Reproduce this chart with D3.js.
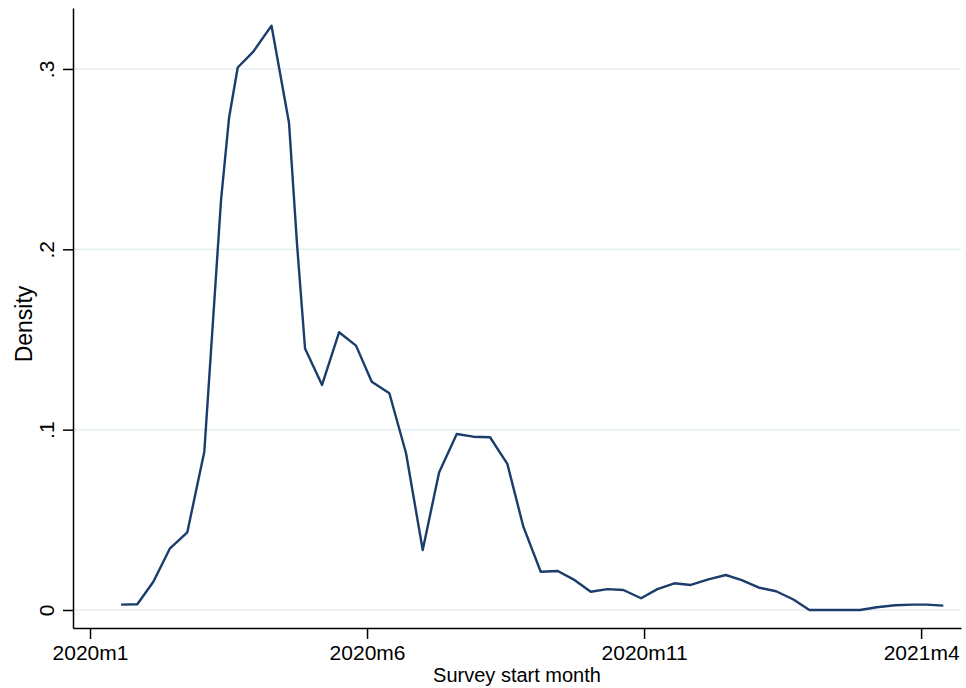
<!DOCTYPE html>
<html>
<head>
<meta charset="utf-8">
<script src="https://cdn.jsdelivr.net/npm/d3@7.9.0/dist/d3.min.js"></script>
<style>
  body { margin: 0; background: #fff; }
  svg { display: block; font-family: Arial, "Liberation Sans", sans-serif; }
</style>
</head>
<body>
<svg id="chart" width="966" height="688"></svg>
<script>
// month index: 0 = 2020m1
const months = [0.56, 0.854, 1.143, 1.444, 1.756, 2.063, 2.365, 2.509, 2.666, 2.948, 3.276, 3.592, 3.736,
    3.881, 4.188, 4.495, 4.801, 5.085, 5.403, 5.704, 6.005, 6.3, 6.619, 6.919, 7.22, 7.532, 7.821,
    8.135, 8.442, 8.724, 9.038, 9.338, 9.626, 9.946, 10.24, 10.547, 10.843, 11.161, 11.475, 11.763,
    12.063, 12.383, 12.695, 12.984, 13.29, 13.6, 13.899, 14.2, 14.53, 14.84, 15.1, 15.4];
const density = [0.003, 0.0032, 0.0157, 0.0342, 0.0431, 0.0878, 0.2274, 0.2728, 0.3008, 0.3096, 0.324, 0.27, 0.203,
    0.145, 0.1248, 0.154, 0.1466, 0.1266, 0.1202, 0.0869, 0.0333, 0.0763, 0.0976, 0.0961, 0.0958, 0.081, 0.0462,
    0.0212, 0.0216, 0.017, 0.0101, 0.0116, 0.0111, 0.0065, 0.0116, 0.0148, 0.0139, 0.017, 0.0194, 0.0166,
    0.0125, 0.0104, 0.0058, 0, 0, 0, 0, 0.0015, 0.0026, 0.003, 0.003, 0.0024];

const xTicks = [0, 5, 10, 15];
const xTickLabels = ['2020m1', '2020m6', '2020m11', '2021m4'];
const yTicks = [0, 0.1, 0.2, 0.3];
const yTickLabels = ['0', '.1', '.2', '.3'];

const svg = d3.select('#chart');
const plotLeft = 73, plotRight = 961, plotTop = 8, plotBottom = 628;

const x = d3.scaleLinear().domain([-0.307, 15.72]).range([plotLeft, plotRight]);
const y = d3.scaleLinear().domain([-0.00998, 0.3338]).range([plotBottom, plotTop]);

// gridlines
svg.append('g')
    .selectAll('line')
    .data(yTicks)
    .join('line')
    .attr('x1', plotLeft)
    .attr('x2', plotRight)
    .attr('y1', d => y(d))
    .attr('y2', d => y(d))
    .attr('stroke', '#e4edf0')
    .attr('stroke-width', 1.5);

// density line
const pts = months.map((m, i) => [m, density[i]]);
svg.append('path')
    .datum(pts)
    .attr('fill', 'none')
    .attr('stroke', '#1a3d6b')
    .attr('stroke-width', 2.4)
    .attr('stroke-linejoin', 'round')
    .attr('d', d3.line().x(d => x(d[0])).y(d => y(d[1])));

// x axis
const xAxis = svg.append('g')
    .attr('transform', `translate(0,${plotBottom})`)
    .call(d3.axisBottom(x)
        .tickValues(xTicks)
        .tickFormat((d, i) => xTickLabels[i])
        .tickSize(11)
        .tickSizeOuter(0)
        .tickPadding(6));
xAxis.select('.domain').attr('stroke', '#000').attr('stroke-width', 1.5);
xAxis.selectAll('.tick line').attr('stroke', '#000').attr('stroke-width', 1.5);
xAxis.selectAll('.tick text')
    .attr('font-size', 21)
    .attr('fill', '#000')
    .attr('font-family', 'Arial, "Liberation Sans", sans-serif');

// y axis
const yAxis = svg.append('g')
    .attr('transform', `translate(${plotLeft},0)`)
    .call(d3.axisLeft(y)
        .tickValues(yTicks)
        .tickFormat((d, i) => yTickLabels[i])
        .tickSize(10)
        .tickSizeOuter(0));
yAxis.select('.domain').attr('stroke', '#000').attr('stroke-width', 1.5);
yAxis.selectAll('.tick line').attr('stroke', '#000').attr('stroke-width', 1.5);
yAxis.selectAll('.tick text')
    .attr('font-size', 21)
    .attr('fill', '#000')
    .attr('font-family', 'Arial, "Liberation Sans", sans-serif')
    .attr('x', null)
    .attr('dy', null)
    .attr('text-anchor', 'middle')
    .attr('transform', 'translate(-19,0) rotate(-90)');

// axis titles
svg.append('text')
    .attr('x', (plotLeft + plotRight) / 2)
    .attr('y', 682)
    .attr('text-anchor', 'middle')
    .attr('font-size', 20)
    .text('Survey start month');

svg.append('text')
    .attr('transform', `translate(32,${(plotTop + plotBottom) / 2 + 6}) rotate(-90)`)
    .attr('text-anchor', 'middle')
    .attr('font-size', 23)
    .text('Density');
</script>
</body>
</html>
